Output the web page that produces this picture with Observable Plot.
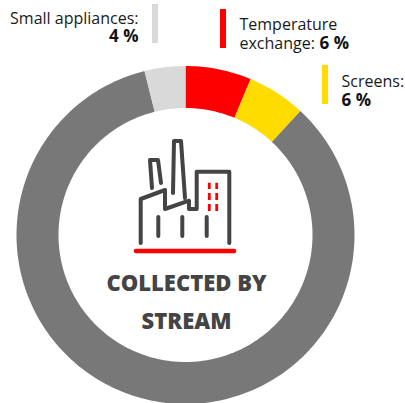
<!DOCTYPE html>
<html><head><meta charset="utf-8">
<script src="https://cdn.jsdelivr.net/npm/d3@7"></script>
<script src="https://cdn.jsdelivr.net/npm/@observablehq/plot@0.6"></script>
<style>html,body{margin:0;padding:0;background:#fff}svg{display:block}</style>
</head><body><div id="chart"></div>
<script>
const categories = ["Temperature exchange", "Screens", "Large appliances", "Small appliances"];
const shares = [6.3, 5.6, 84.2, 3.9];
const colours = ["#ff0000", "#ffdc00", "#787878", "#d9d9d9"];

const W = 405, H = 403, R = 169, r = 127;
const cx = 185, cy = 234.5;
// Slice outlines in data units, derived from the shares
let cum = 0;
const ring = [];
shares.forEach((s, i) => {
  const a0 = cum / 100 * 2 * Math.PI, a1 = (cum + s) / 100 * 2 * Math.PI;
  cum += s;
  const n = Math.max(2, Math.ceil(s * 3));
  for (let k = 0; k <= n; k++) { const a = a0 + (a1 - a0) * k / n; ring.push({c: categories[i], x: R * Math.sin(a), y: R * Math.cos(a)}); }
  for (let k = n; k >= 0; k--) { const a = a0 + (a1 - a0) * k / n; ring.push({c: categories[i], x: r * Math.sin(a), y: r * Math.cos(a)}); }
});

const factory = [
  "M140.7 243V199L165 190V209L189 200.7V209H196.7V171.7H229.3V243",
  "M152 188L150 160H158L161 183",
  "M173 193L174 141H181L185 198",
  "M158.3 217V236M182.3 217V236M206.7 217V236"
];
const stacks = "M209.3 182.7V189M216.7 182.7V189M209.3 193V200M216.7 193V200M209.3 204V211M216.7 204V211";

function decor() {
  const g = d3.create("svg:g");
  [[152, 4, colours[3]], [220, 9, colours[0]], [322, 65, colours[1]]].forEach(([x, y, f]) =>
    g.append("rect").attr("x", x).attr("y", y).attr("width", 6).attr("height", 39).attr("fill", f));
  factory.forEach(d => g.append("path").attr("d", d).attr("fill", "none").attr("stroke", "#444").attr("stroke-width", 4).attr("stroke-linecap", "round").attr("stroke-linejoin", "round"));
  g.append("path").attr("d", stacks).attr("fill", "none").attr("stroke", "#ff0000").attr("stroke-width", 2.8);
  g.append("path").attr("d", "M136 251H234").attr("stroke", "#ff0000").attr("stroke-width", 4.5).attr("stroke-linecap", "round");
  return g.node();
}

const font = "Open Sans";
const label = (t, dx, dy, o = {}) => Plot.text([t], {text: d => d, frameAnchor: "top-left", dx, dy, textAnchor: "start", lineAnchor: "bottom", fontSize: 16, fill: "#1a1a1a", ...o});
const bold = {fontWeight: 700, fontSize: 17, fill: "#111", letterSpacing: "-0.4px"};
const tight = {letterSpacing: "-0.55px"};
const centre = {text: d => d, frameAnchor: "top-left", dx: 186, textAnchor: "middle", lineAnchor: "bottom", fontSize: 22, fontWeight: 800, fill: "#444", letterSpacing: "-0.9px"};

const plot = Plot.plot({
  width: W, height: H, margin: 0,
  style: {fontFamily: font, background: "#fff", overflow: "visible"},
  x: {domain: [-cx, W - cx], range: [0, W], axis: null},
  y: {domain: [cy - H, cy], range: [H, 0], axis: null},
  marks: [
    Plot.line(ring, {x: "x", y: "y", z: "c", fill: d => colours[categories.indexOf(d.c)], stroke: null, curve: "linear"}),
    decor,
    label("Small appliances:", 138, 23, {textAnchor: "end", ...tight}),
    label("4 %", 138, 41, {textAnchor: "end", ...bold}),
    label("Temperature", 239, 29, tight),
    label("exchange:", 239, 48, tight),
    label("6 %", 319, 48, bold),
    label("Screens:", 341, 86, {letterSpacing: "-0.8px"}),
    label("6 %", 341, 105, bold),
    Plot.text(["COLLECTED BY"], {...centre, dy: 290}),
    Plot.text(["STREAM"], {...centre, dy: 328})
  ]
});
document.getElementById("chart").append(plot);
</script></body></html>
